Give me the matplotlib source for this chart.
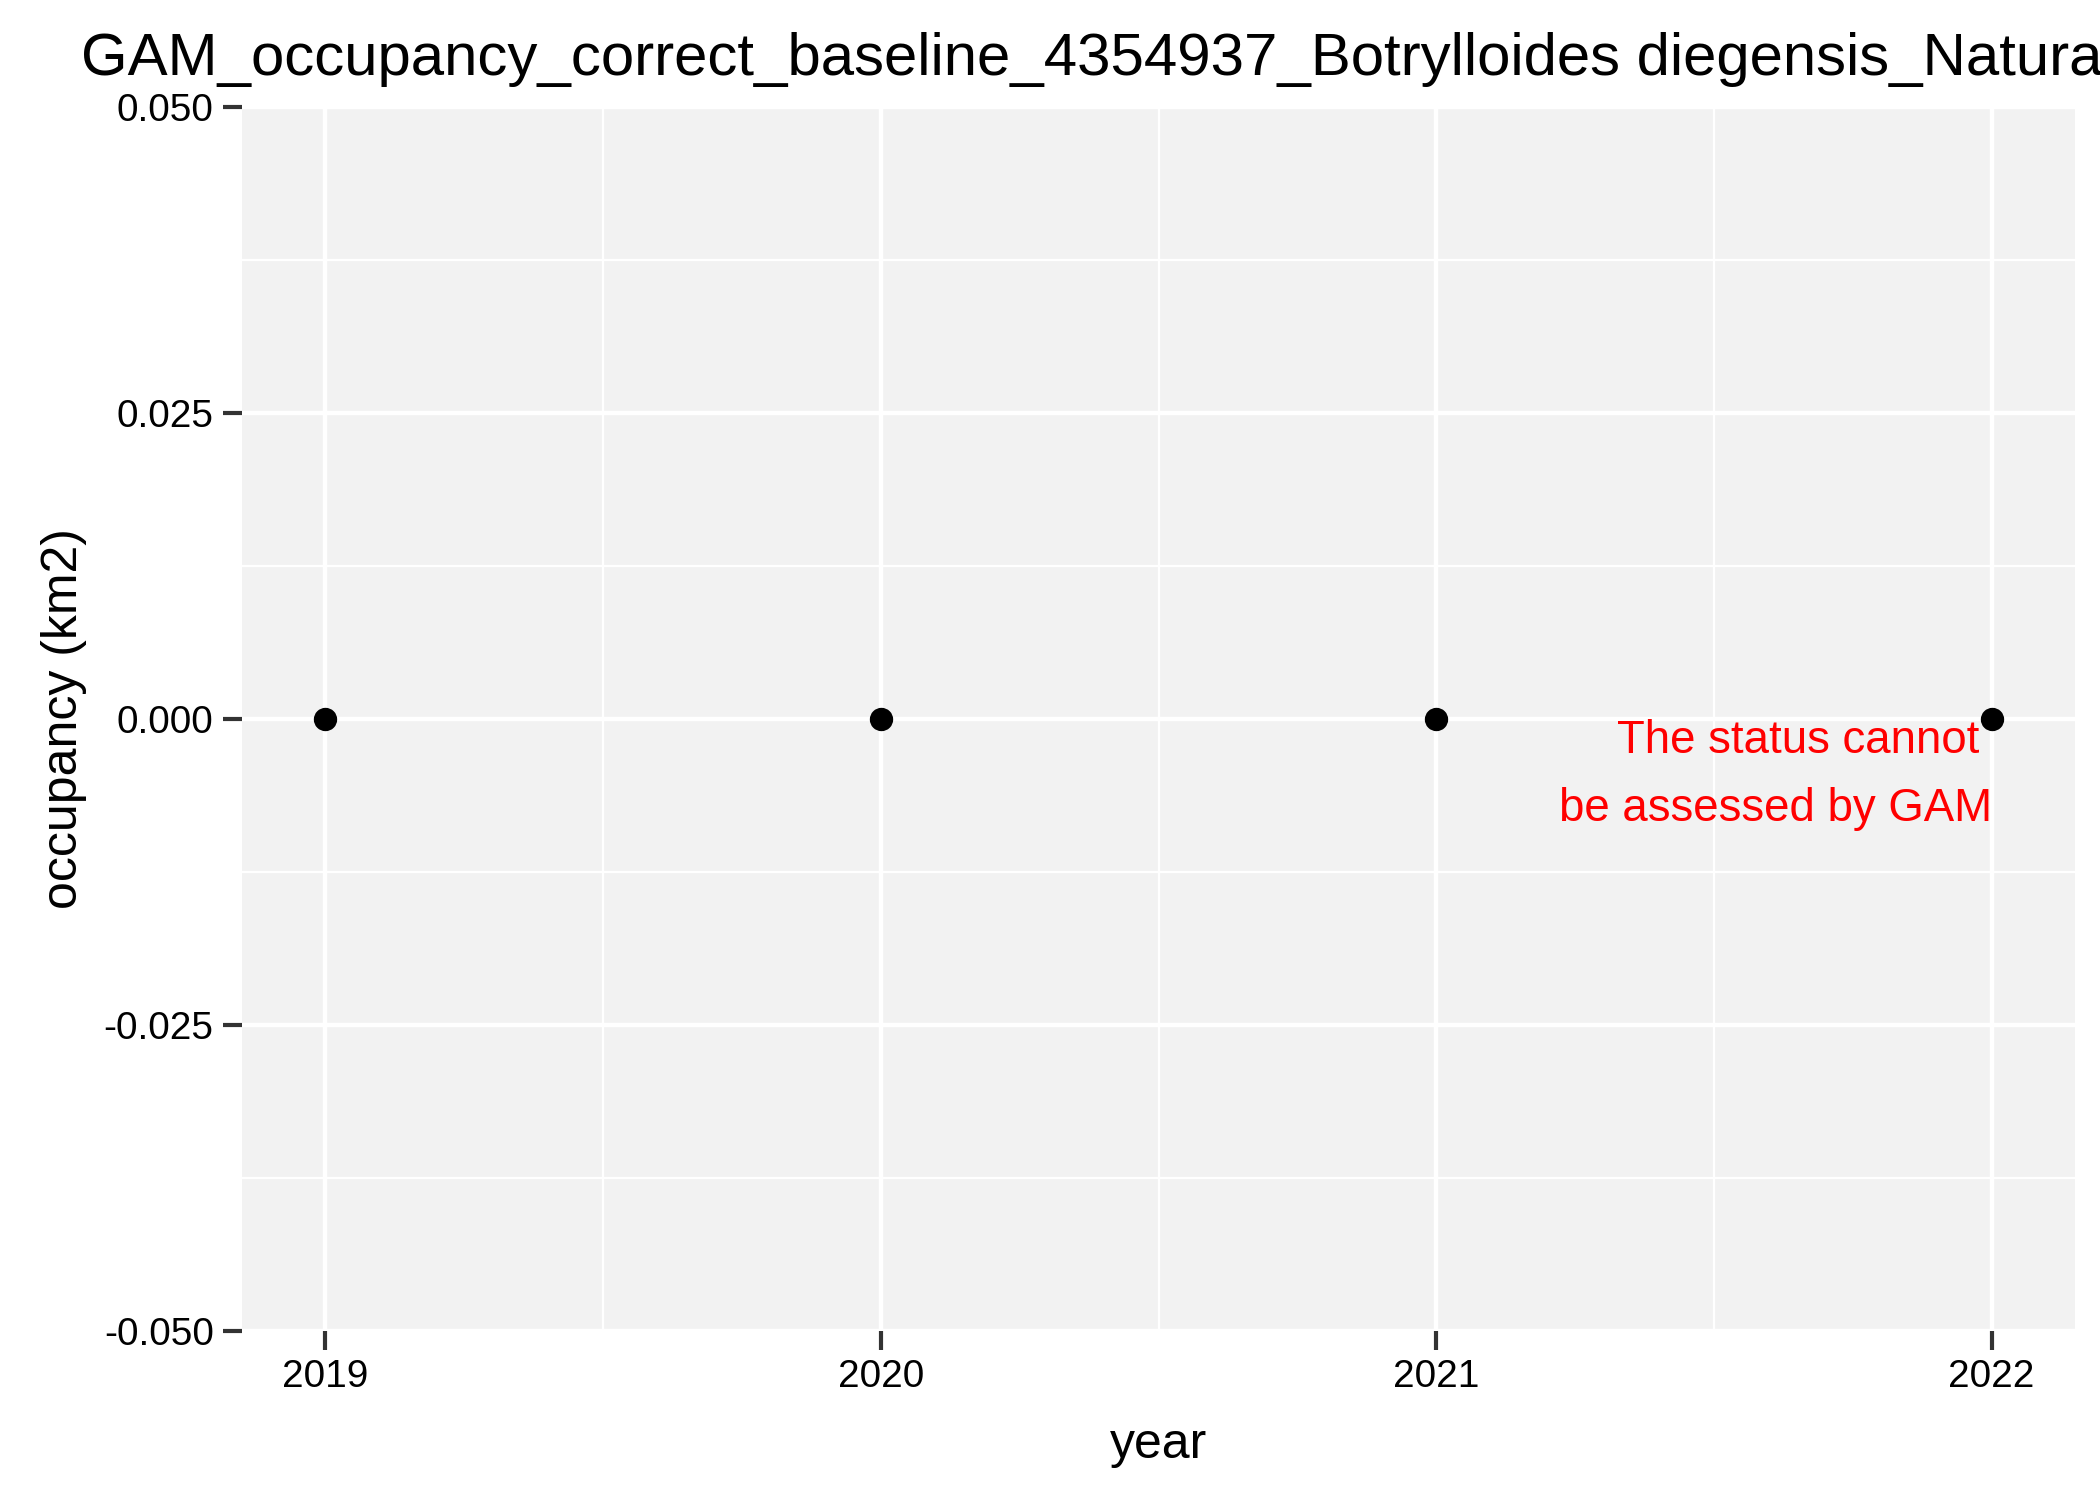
import numpy as np
import matplotlib
matplotlib.use("Agg")
import matplotlib.pyplot as plt
from matplotlib.ticker import MultipleLocator

plt.rcParams['font.family'] = ['Liberation Sans', 'DejaVu Sans']

# data
years = [2019, 2020, 2021, 2022]
occupancy = [0.0, 0.0, 0.0, 0.0]
y_ticks = [-0.050, -0.025, 0.000, 0.025, 0.050]
y_tick_labels = ["-0.050", "-0.025", "0.000", "0.025", "0.050"]
title = "GAM_occupancy_correct_baseline_4354937_Botrylloides diegensis_Natura2000"
note = "The status cannot \nbe assessed by GAM"

fig = plt.figure(figsize=(7, 1499 / 300), dpi=300)
ax = fig.add_axes([242 / 2100, 1 - 1331 / 1499, (2075 - 242) / 2100, (1331 - 107) / 1499])
ax.set_facecolor('#F2F2F2')
for s in ax.spines.values():
    s.set_visible(False)

ax.set_xlim(2018.85, 2022.15)
ax.set_ylim(-0.05, 0.05)
ax.set_xticks(years)
ax.set_xticks([2019.5, 2020.5, 2021.5], minor=True)
ax.set_yticks(y_ticks)
ax.set_yticklabels(y_tick_labels)
ax.yaxis.set_minor_locator(MultipleLocator(0.025))
ax.set_yticks([-0.0375, -0.0125, 0.0125, 0.0375], minor=True)

ax.grid(which='major', color='white', linewidth=1.05)
ax.grid(which='minor', color='white', linewidth=0.55)
ax.set_axisbelow(True)
ax.tick_params(which='major', length=4.6, width=1.0, color='#333333',
               labelsize=9.3, labelcolor='black', pad=2.2)
ax.tick_params(which='minor', length=0)

ax.plot(years, occupancy, 'o', color='black', markersize=4.6, linestyle='none')
ax.text(years[-1], 0, note, ha='right', va='top', color='red',
        fontsize=10.95, linespacing=1.72)

ax.set_title(title, fontsize=14.4, pad=7.7)
fig.text(1158.5 / 2100, 1 - 1458 / 1499, "year", fontsize=12,
         ha='center', va='baseline')
fig.text(64 / 2100, 1 - 719 / 1499, "occupancy (km2)", fontsize=12,
         ha='center', va='center', rotation=90)

fig.savefig('out.png', dpi=300)
